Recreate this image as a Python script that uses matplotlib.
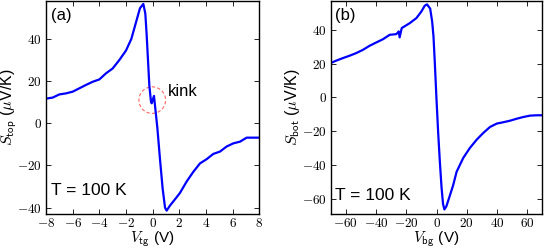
import matplotlib
matplotlib.use("Agg")
import matplotlib.pyplot as plt
from matplotlib.patches import Ellipse
from matplotlib.ticker import FuncFormatter, MultipleLocator

plt.rcParams['mathtext.fontset'] = 'cm'
plt.rcParams['font.family'] = ['Liberation Sans', 'DejaVu Sans']

# Panel (a): top-gate sweep
vtg = [-8, -7.5, -7, -6.5, -6, -5.5, -5, -4.5, -4, -3.5, -3, -2.5, -2, -1.6, -1.2,
       -0.95, -0.7, -0.55, -0.45, -0.35, -0.25, -0.12, -0.07, 0.1, 0.2, 0.35, 0.55,
       0.75, 0.93, 1.05, 1.3, 1.68, 2.05, 2.55, 3.05, 3.55, 4.05, 4.55, 5.05, 5.55,
       6.05, 6.55, 7.05, 7.55, 8]
s_top = [11.7, 12.2, 13.7, 14.2, 15, 16.6, 18.2, 19.7, 20.8, 23.7, 26, 30, 34.5, 40, 49,
         54.6, 56.6, 52, 42, 30, 18, 10, 9.5, 13, 7, -2, -17,
         -31, -40, -41.4, -39, -36, -33, -27.6, -23, -19, -17, -14.5, -13.4, -11,
         -9.5, -8.7, -6.8, -6.8, -6.8]

# Panel (b): back-gate sweep
vbg = [-70, -66.4, -62, -57.6, -53.1, -48.7, -44.3, -39.8, -35.4, -31, -26.6, -25.0,
       -24.4, -23.0, -17.7, -13.3, -10, -7.8, -6.3, -4.2, -2.9, -2.0, -1.1, 0, 1.1,
       2.2, 3.3, 4.3, 5.2, 6.5, 8.5, 11, 13.3, 17.7, 22.1, 26.6, 31, 35.4, 39.9, 44.3,
       48.7, 53.2, 57.5, 62, 66.4, 70]
s_bot = [20.3, 21.7, 23.2, 24.6, 26.2, 28.1, 30.5, 32.5, 34.4, 37, 37.4, 39,
         35.5, 41, 43.9, 46.9, 50.8, 54.2, 55, 52.5, 45, 36, 20, -1.4, -21,
         -38, -53, -63, -66.3, -64.5, -59, -52, -44, -35.8, -29.9, -25, -21, -17.5, -15.5, -14.7,
         -13.8, -12.6, -11.6, -10.8, -10.6, -10.6]

fig = plt.figure(figsize=(5.45, 2.5), dpi=100)
axL = fig.add_axes([0.0844, 0.144, 0.3914, 0.852])
axR = fig.add_axes([0.6068, 0.144, 0.3883, 0.852])

fmt = FuncFormatter(lambda v, p: r'$%d$' % round(v))

for ax in (axL, axR):
    ax.tick_params(direction='in', top=True, right=True, length=3.5, width=0.6,
                   labelsize=9.5, pad=3)
    ax.tick_params(axis='x', pad=2)
    ax.xaxis.set_major_formatter(fmt)
    ax.yaxis.set_major_formatter(fmt)
    for sp in ax.spines.values():
        sp.set_linewidth(1.0)

axL.plot(vtg, s_top, color='#0000ff', lw=1.6)
axL.set_xlim(-8, 8)
axL.set_ylim(-43, 58)
axL.xaxis.set_major_locator(MultipleLocator(2))
axL.yaxis.set_major_locator(MultipleLocator(20))
axL.set_xlabel(r'$V_{\mathsf{tg}}$ (V)', fontsize=11, labelpad=0)
axL.set_ylabel(r'$S_{\mathsf{top}}$ ($\mu$V/K)', fontsize=11.5)
axL.yaxis.set_label_coords(-0.125, 0.5)
axL.text(0.022, 0.965, '(a)', transform=axL.transAxes, fontsize=12, ha='left', va='top')
axL.text(0.022, 0.089, 'T = 100 K', transform=axL.transAxes, fontsize=12.5,
         ha='left', va='baseline')
axL.text(1.15, 15.3, 'kink', fontsize=12, ha='left', va='center')
axL.add_patch(Ellipse((-0.03, 11), 2.0, 12.6, fill=False, edgecolor='#ff5555',
                      linestyle=(0, (3, 2)), lw=0.8, alpha=0.9))

axR.plot(vbg, s_bot, color='#0000ff', lw=1.6)
axR.set_xlim(-70, 70)
axR.set_ylim(-69, 57)
axR.xaxis.set_major_locator(MultipleLocator(20))
axR.yaxis.set_major_locator(MultipleLocator(20))
axR.set_xlabel(r'$V_{\mathsf{bg}}$ (V)', fontsize=11, labelpad=0)
axR.set_ylabel(r'$S_{\mathsf{bot}}$ ($\mu$V/K)', fontsize=11.5)
axR.yaxis.set_label_coords(-0.135, 0.5)
axR.text(0.022, 0.965, '(b)', transform=axR.transAxes, fontsize=12, ha='left', va='top')
axR.text(0.022, 0.066, 'T = 100 K', transform=axR.transAxes, fontsize=12.5,
         ha='left', va='baseline')

fig.savefig('out.png', dpi=100)
